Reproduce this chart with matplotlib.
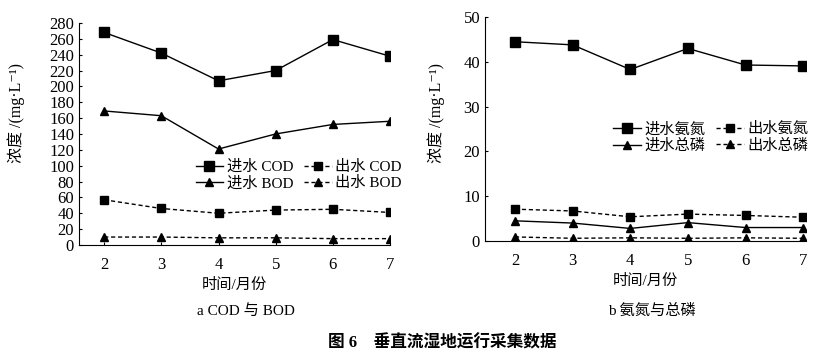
import matplotlib.pyplot as plt

plt.rcParams['font.family'] = ['Liberation Serif', 'Noto Sans CJK SC', 'DejaVu Serif']
plt.rcParams['axes.unicode_minus'] = False

months = [2, 3, 4, 5, 6, 7]

# a COD 与 BOD
cod_in = [268, 242, 207, 220, 259, 238]
cod_out = [57, 46, 40, 44, 45, 41]
bod_in = [169, 163, 121, 140, 152, 156]
bod_out = [10, 10, 9, 9, 8, 8]

# b 氨氮与总磷
nh_in = [44.5, 43.8, 38.3, 43.0, 39.3, 39.1]
nh_out = [7.1, 6.7, 5.4, 6.0, 5.7, 5.3]
tp_in = [4.5, 4.0, 2.8, 4.1, 3.0, 3.0]
tp_out = [0.9, 0.6, 0.7, 0.6, 0.7, 0.6]

fig = plt.figure(figsize=(8.34, 3.64), dpi=100)
ax1 = fig.add_axes([0.0947, 0.327, 0.373, 0.610])
ax2 = fig.add_axes([0.5815, 0.338, 0.385, 0.615])

k = dict(color='black', lw=1.0)
# 画线顺序 = 图例按列填充的顺序
ax1.plot(months, cod_in, '-', marker='s', ms=7, label='进水 COD', **k)
ax1.plot(months, bod_in, '-', marker='^', ms=6, label='进水 BOD', **k)
ax1.plot(months, cod_out, '--', marker='s', ms=6, label='出水 COD', dashes=(3, 2), **k)
ax1.plot(months, bod_out, '--', marker='^', ms=6, label='出水 BOD', dashes=(3, 2), **k)
ax1.set_ylim(0, 280)
ax1.set_yticks(range(0, 281, 20))
ax1.set_xlim(1.56, 7.0)

ax2.plot(months, nh_in, '-', marker='s', ms=7, label='进水氨氮', **k)
ax2.plot(months, tp_in, '-', marker='^', ms=6, label='进水总磷', **k)
ax2.plot(months, nh_out, '--', marker='s', ms=6, label='出水氨氮', dashes=(3, 2), **k)
ax2.plot(months, tp_out, '--', marker='^', ms=6, label='出水总磷', dashes=(3, 2), **k)
ax2.set_ylim(0, 50)
ax2.set_yticks(range(0, 51, 10))
ax2.set_xlim(1.48, 7.05)

for ax in (ax1, ax2):
    ax.spines['top'].set_visible(False)
    ax.spines['right'].set_visible(False)
    ax.set_xticks(months)
    ax.tick_params(axis='both', labelsize=12, length=2, direction='in')
    ax.tick_params(axis='x', pad=9)
    ax.set_xlabel('时间/月份', fontsize=11, labelpad=3)
    ax.set_ylabel('浓度 /(mg·L⁻¹)', fontsize=11.5)

ax1.yaxis.set_label_coords(-0.174, 0.595)
ax2.yaxis.set_label_coords(-0.125, 0.57)

leg = dict(ncol=2, loc='center left', frameon=False, fontsize=11,
           handlelength=1.8, columnspacing=0.7, labelspacing=0.15,
           handletextpad=0.25, borderpad=0, borderaxespad=0)
ax1.legend(bbox_to_anchor=(0.375, 0.315), **leg)
ax2.legend(bbox_to_anchor=(0.40, 0.462), **leg)

fig.text(0.295, 0.146, 'a COD 与 BOD', ha='center', va='center', fontsize=11)
fig.text(0.782, 0.146, 'b 氨氮与总磷', ha='center', va='center', fontsize=11)
fig.text(0.53, 0.058, '图 6    垂直流湿地运行采集数据', ha='center', va='center',
         fontsize=12, fontweight='bold')

fig.savefig('out.png', dpi=100)
